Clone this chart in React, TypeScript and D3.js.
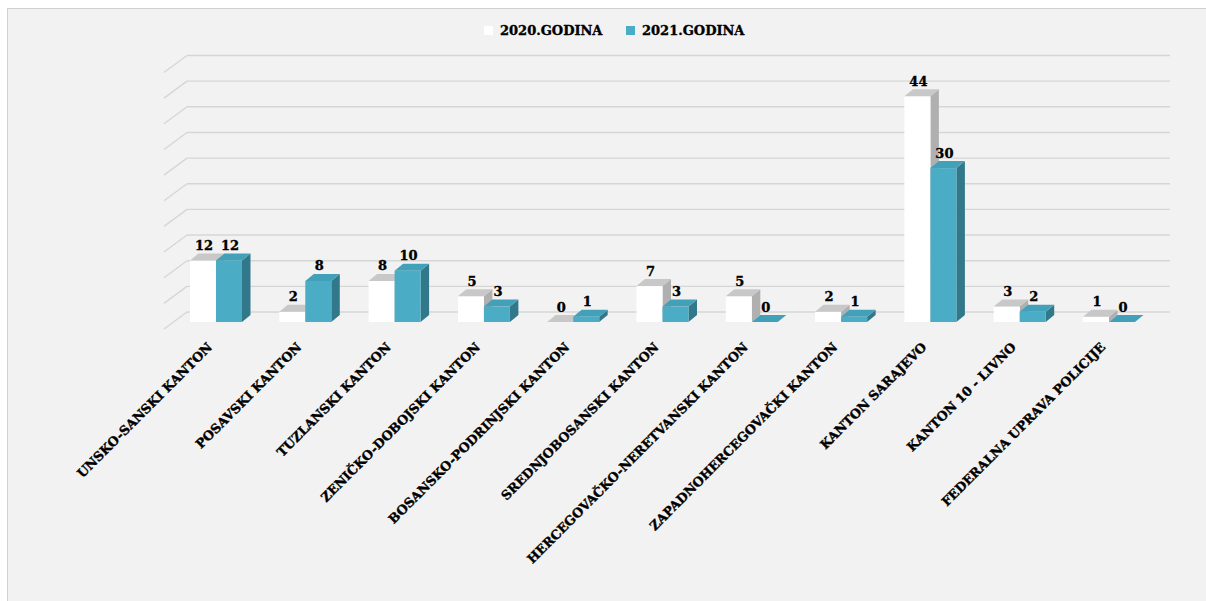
import React from "react";
import * as d3 from "d3";

// Podaci
const categories = [
  "UNSKO-SANSKI KANTON",
  "POSAVSKI KANTON",
  "TUZLANSKI KANTON",
  "ZENIČKO-DOBOJSKI KANTON",
  "BOSANSKO-PODRINJSKI KANTON",
  "SREDNJOBOSANSKI KANTON",
  "HERCEGOVAČKO-NERETVANSKI KANTON",
  "ZAPADNOHERCEGOVAČKI KANTON",
  "KANTON SARAJEVO",
  "KANTON 10 - LIVNO",
  "FEDERALNA UPRAVA POLICIJE",
];
const seriesNames = ["2020.GODINA", "2021.GODINA"];
const values2020 = [12, 2, 8, 5, 0, 7, 5, 2, 44, 3, 1];
const values2021 = [12, 8, 10, 3, 1, 3, 0, 1, 30, 2, 0];
const gridTicks = [0, 5, 10, 15, 20, 25, 30, 35, 40, 45, 50];

const W = 1206;
const H = 601;
const FONT = "'DejaVu Serif', 'Liberation Serif', serif";

// boje: prednja, gornja, bočna strana
const palette = [
  { front: "#ffffff", top: "#c8c8c8", side: "#b0b0b0" },
  { front: "#4bacc6", top: "#43a0b9", side: "#31788b" },
];

// dubina 3D efekta
const DX = 8.5;
const DY = 7;
const WALL_DX = 23;
const WALL_DY = 17;

export default function App() {
  const x0 = d3
    .scaleBand<string>()
    .domain(categories)
    .range([171.35, 1153.65])
    .paddingInner(0.4177)
    .paddingOuter(0.4177 / 2);
  const x1 = d3.scaleBand<string>().domain(seriesNames).range([0, x0.bandwidth()]);
  const y = d3.scaleLinear().domain([0, 50]).range([322, 65.5]);

  const data = [values2020, values2021];
  const wallLeft = 164 + WALL_DX;
  const wallRight = 1170;

  return (
    <svg
      width={W}
      height={H}
      style={{ position: "absolute", left: 0, top: 0, display: "block", background: "#ffffff" }}
    >
      <rect x={7.5} y={8.5} width={1230} height={640} fill="#f2f2f2" stroke="#d0d0d0" />

      {/* zadnji zid - mreža */}
      <g stroke="#d6d6d6" strokeWidth={1.4} fill="none">
        {gridTicks.map((t) => {
          const yb = y(t) + DY - WALL_DY;
          return (
            <g key={t}>
              <line x1={wallLeft} x2={wallRight} y1={yb} y2={yb} />
              <line x1={164} y1={y(t) + DY} x2={wallLeft} y2={yb} />
            </g>
          );
        })}
      </g>

      {/* stupci */}
      {categories.map((c, i) => (
        <g key={c}>
          {seriesNames.map((s, si) => {
            const v = data[si][i];
            const bx = (x0(c) ?? 0) + (x1(s) ?? 0);
            const bw = x1.bandwidth();
            const yt = y(v);
            const yb = y(0);
            const col = palette[si];
            const top = `M${bx},${yt}L${bx + DX},${yt - DY}L${bx + bw + DX},${yt - DY}L${bx + bw},${yt}Z`;
            const side = `M${bx + bw},${yt}L${bx + bw + DX},${yt - DY}L${bx + bw + DX},${yb - DY}L${bx + bw},${yb}Z`;
            return (
              <g key={s}>
                <path d={side} fill={col.side} />
                {v > 0 && <rect x={bx} y={yt} width={bw} height={yb - yt} fill={col.front} />}
                <path d={top} fill={col.top} />
              </g>
            );
          })}
        </g>
      ))}

      {/* vrijednosti */}
      <g fontFamily={FONT} fontWeight="bold" fontSize={13} fill="#000" stroke="#000" strokeWidth={0.35} textAnchor="middle">
        {categories.map((c, i) =>
          seriesNames.map((s, si) => {
            const v = data[si][i];
            const cx = (x0(c) ?? 0) + (x1(s) ?? 0) + x1.bandwidth() / 2;
            return (
              <text key={c + s} x={cx + 1} y={y(v) - 10.5}>
                {v}
              </text>
            );
          })
        )}
      </g>

      {/* kategorije */}
      <g fontFamily={FONT} fontWeight="bold" fontSize={12.7} fill="#000" stroke="#000" strokeWidth={0.4} textAnchor="end">
        {categories.map((c) => {
          const cx = (x0(c) ?? 0) + x0.bandwidth() / 2 - 3;
          const cy = 348;
          return (
            <text key={c} transform={`translate(${cx},${cy}) rotate(-45)`}>
              {c}
            </text>
          );
        })}
      </g>

      {/* legenda */}
      <g fontFamily={FONT} fontWeight="bold" fontSize={13} fill="#000" stroke="#000" strokeWidth={0.35}>
        {seriesNames.map((s, si) => {
          const lx = si === 0 ? 484 : 626;
          return (
            <g key={s}>
              <rect x={lx} y={26} width={9} height={9} fill={palette[si].front} stroke="none" />
              <text x={lx + 16} y={34.5}>
                {s}
              </text>
            </g>
          );
        })}
      </g>
    </svg>
  );
}
